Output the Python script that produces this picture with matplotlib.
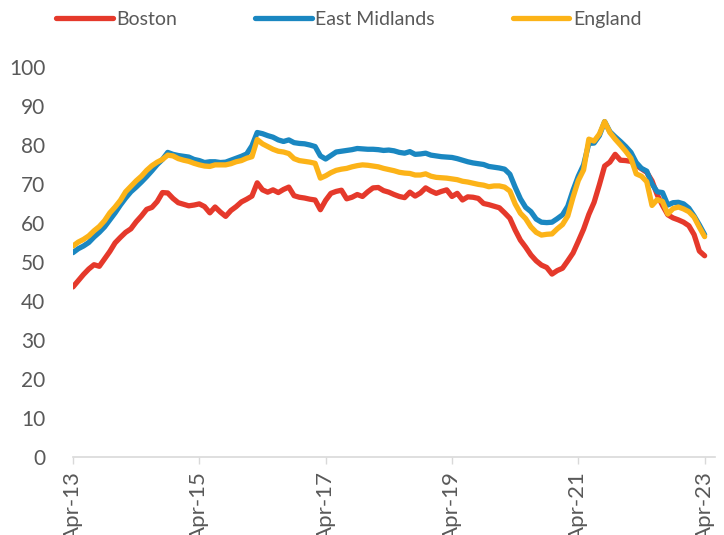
import matplotlib
matplotlib.use("Agg")
import matplotlib.pyplot as plt
import numpy as np

# monthly values, Apr-13 .. Apr-23 (121 months)
boston = [
    43.6, 45.2, 46.8, 48.2, 49.3, 48.9, 50.8, 52.7, 54.9, 56.3, 57.6, 58.5,
    60.3, 61.8, 63.5, 64.0, 65.5, 67.8, 67.7, 66.3, 65.2, 64.8, 64.4, 64.6,
    64.9, 64.2, 62.6, 64.1, 62.8, 61.7, 63.2, 64.2, 65.4, 66.1, 66.9, 70.3,
    68.5, 67.9, 68.5, 67.8, 68.6, 69.2, 67.0, 66.6, 66.4, 66.1, 65.9, 63.4,
    65.8, 67.6, 68.1, 68.4, 66.2, 66.6, 67.3, 66.8, 68.0, 69.0, 69.1, 68.3,
    67.9, 67.3, 66.8, 66.5, 67.9, 66.9, 67.7, 69.0, 68.2, 67.6, 68.1, 68.5,
    66.8, 67.6, 65.9, 66.7, 66.6, 66.3, 65.0, 64.7, 64.3, 63.9, 62.6, 61.2,
    58.2, 55.6, 53.8, 51.8, 50.3, 49.2, 48.6, 46.9, 47.8, 48.4, 50.3, 52.3,
    55.3, 58.4, 62.2, 65.3, 69.8, 74.6, 75.6, 77.6, 76.1, 76.0, 75.8, 74.8,
    73.9, 73.0, 70.8, 67.2, 64.5, 62.1, 61.3, 60.8, 60.2, 59.3, 57.0, 52.8,
    51.6,
]
east_midlands = [
    52.4, 53.4, 54.1, 55.0, 56.4, 57.6, 59.0, 60.8, 62.6, 64.6, 66.4, 68.0,
    69.2, 70.5, 71.9, 73.4, 75.0, 76.3, 78.1, 77.6, 77.3, 77.1, 76.9, 76.3,
    76.0, 75.5, 75.7, 75.7, 75.5, 75.6, 76.1, 76.6, 77.1, 77.7, 79.8, 83.2,
    82.9, 82.4, 82.0, 81.3, 80.9, 81.3, 80.6, 80.4, 80.3, 80.0, 79.6, 77.2,
    76.4, 77.3, 78.2, 78.4, 78.6, 78.8, 79.1, 79.0, 78.9, 78.9, 78.8, 78.6,
    78.7, 78.5, 78.1, 77.9, 78.3, 77.6, 77.7, 77.9, 77.4, 77.2, 77.0, 76.9,
    76.8, 76.5, 76.1, 75.7, 75.4, 75.2, 75.0, 74.5, 74.3, 74.1, 73.8, 72.5,
    69.2, 66.2, 64.0, 62.9, 61.0, 60.2, 60.1, 60.2, 61.1, 62.1, 64.3, 68.4,
    72.0, 74.9, 80.4, 80.5, 82.4, 86.0, 83.4, 82.1, 80.9, 79.6, 78.1, 75.5,
    74.0, 73.3, 70.0, 68.0, 67.8, 64.6, 65.2, 65.3, 64.9, 63.8, 61.8, 59.5,
    57.0,
]
england = [
    54.1, 55.1, 55.8, 56.7, 58.0, 59.1, 60.6, 62.6, 64.1, 65.8, 68.0, 69.4,
    70.8, 72.0, 73.5, 74.7, 75.6, 76.3, 77.4, 77.2, 76.5, 76.1, 75.8, 75.3,
    74.9, 74.6, 74.5, 74.9, 74.9, 74.9, 75.2, 75.7, 76.0, 76.6, 77.0, 81.4,
    80.3, 79.6, 78.9, 78.4, 78.2, 77.8, 76.5, 76.0, 75.8, 75.6, 75.3, 71.5,
    72.1, 72.9, 73.5, 73.8, 74.0, 74.4, 74.7, 74.9, 74.8, 74.6, 74.4, 74.0,
    73.7, 73.4, 73.0, 72.8, 72.7, 72.3, 72.3, 72.6, 72.0, 71.7, 71.6, 71.5,
    71.3, 71.1, 70.7, 70.5, 70.2, 69.9, 69.7, 69.3, 69.5, 69.5, 69.2, 68.2,
    64.9, 62.5, 61.1, 59.0, 57.6, 56.9, 57.1, 57.2, 58.5, 59.6, 61.8, 66.6,
    70.9, 73.6, 81.5, 81.0, 82.8, 86.0, 83.2, 81.5, 80.0, 78.4, 76.6, 72.6,
    72.0, 70.6, 64.5, 66.0, 65.5, 62.3, 63.7, 64.1, 63.6, 62.9, 61.5, 58.9,
    56.5,
]
tick_labels = ["Apr-13", "Apr-15", "Apr-17", "Apr-19", "Apr-21", "Apr-23"]

series = [("Boston", boston, "#E5392B"),
          ("East Midlands", east_midlands, "#1A87C1"),
          ("England", england, "#FCB318")]

plt.rcParams["font.family"] = ["Lato", "DejaVu Sans"]
GREY = "#595959"

fig = plt.figure(figsize=(7.24, 5.35), dpi=100)
ax = fig.add_axes([0.1008, 0.1458, 0.887, 0.729])

x = np.arange(len(boston))
for name, vals, col in series:
    ax.plot(x, vals, color=col, lw=3.8, label=name, solid_capstyle="round")

ax.set_xlim(0, 122)
ax.set_ylim(0, 100)
ax.set_yticks(range(0, 101, 10))
ax.set_xticks(range(0, 121, 24))
ax.set_xticklabels(tick_labels, rotation=90)
ax.tick_params(axis="y", length=0, pad=20, labelsize=15, labelcolor=GREY)
ax.tick_params(axis="x", length=5, width=1, color="#D9D9D9", pad=5,
               labelsize=16, labelcolor=GREY)
for s in ["top", "right", "left"]:
    ax.spines[s].set_visible(False)
ax.spines["bottom"].set_color("#D9D9D9")
ax.spines["bottom"].set_linewidth(1.2)

fig.legend(loc="upper center", bbox_to_anchor=(0.482, 1.012), ncol=3,
           frameon=False, fontsize=14, labelcolor=GREY, handlelength=2.9,
           handletextpad=0.2, columnspacing=4.0)

fig.savefig("out.png", dpi=100)
